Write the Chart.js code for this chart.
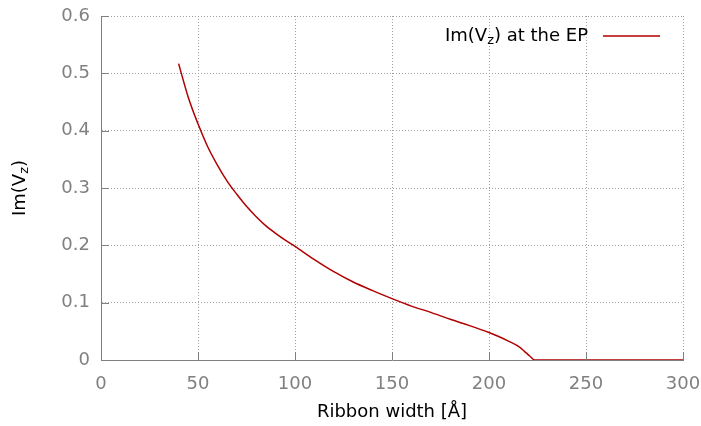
<!DOCTYPE html>
<html lang="en">
<head>
    <meta charset="UTF-8">
    <title>Im(Vz) at the EP</title>
    <script src="https://cdn.jsdelivr.net/npm/chart.js"></script>
    <style>
        body {
            margin: 0;
            padding: 0;
            background: white;
        }
    </style>
</head>
<body>
    <canvas id="epChart" width="701" height="426"></canvas>
    <script>
        // Ribbon width [Å] and imaginary part of Vz at the exceptional point
        const ribbonWidth = [40, 45, 50, 55, 60, 65, 70, 75, 80, 85, 90, 95, 100, 110, 120, 130, 140, 150,
                             160, 170, 180, 190, 200, 205, 210, 215, 218, 221, 223.5, 250, 300];
        const imVz = [0.517, 0.458, 0.412, 0.372, 0.340, 0.312, 0.289, 0.268, 0.250, 0.234, 0.221, 0.209,
                      0.198, 0.175, 0.154, 0.136, 0.121, 0.107, 0.094, 0.083, 0.071, 0.060, 0.048,
                      0.041, 0.033, 0.024, 0.016, 0.007, 0, 0, 0];
        const xTicks = [0, 50, 100, 150, 200, 250, 300];
        const yTicks = [0, 0.1, 0.2, 0.3, 0.4, 0.5, 0.6];

        const FONT = 'DejaVu Sans';
        const lineColor = '#b00000';

        // draws text with a subscript part
        function drawSub(ctx, parts, x, y, align) {
            const big = '18px "' + FONT + '"';
            const small = '13px "' + FONT + '"';
            let total = 0;
            parts.forEach(p => {
                ctx.font = p.sub ? small : big;
                total += ctx.measureText(p.t).width;
            });
            let cx = align === 'right' ? x - total : (align === 'center' ? x - total / 2 : x);
            ctx.textBaseline = 'middle';
            ctx.textAlign = 'left';
            parts.forEach(p => {
                ctx.font = p.sub ? small : big;
                ctx.fillText(p.t, cx, p.sub ? y + 5 : y);
                cx += ctx.measureText(p.t).width;
            });
        }

        const extras = {
            id: 'extras',
            afterDraw(chart) {
                const ctx = chart.ctx;
                const area = chart.chartArea;
                const xs = chart.scales.x, ys = chart.scales.y;
                ctx.save();
                // inward tick marks (gnuplot style)
                ctx.strokeStyle = '#808080';
                ctx.lineWidth = 1;
                ctx.beginPath();
                xTicks.forEach(v => {
                    const px = Math.round(xs.getPixelForValue(v)) + 0.5;
                    ctx.moveTo(px, area.bottom);
                    ctx.lineTo(px, area.bottom - 8);
                });
                yTicks.forEach(v => {
                    const py = Math.round(ys.getPixelForValue(v)) + 0.5;
                    ctx.moveTo(area.left, py);
                    ctx.lineTo(area.left + 8, py);
                });
                ctx.stroke();

                // y axis title with subscript
                ctx.fillStyle = '#000';
                ctx.translate(20, (area.top + area.bottom) / 2);
                ctx.rotate(-Math.PI / 2);
                drawSub(ctx, [{t: 'Im(V'}, {t: 'z', sub: true}, {t: ')'}], 0, 0, 'center');
                ctx.restore();

                // legend entry
                ctx.save();
                ctx.fillStyle = '#000';
                drawSub(ctx, [{t: 'Im(V'}, {t: 'z', sub: true}, {t: ') at the EP'}], 588, 36, 'right');
                ctx.strokeStyle = lineColor;
                ctx.lineWidth = 1.5;
                ctx.beginPath();
                ctx.moveTo(603, 36);
                ctx.lineTo(660, 36);
                ctx.stroke();
                ctx.restore();
            }
        };

        new Chart(document.getElementById('epChart').getContext('2d'), {
            type: 'scatter',
            data: {
                datasets: [{
                    label: 'Im(Vz) at the EP',
                    data: ribbonWidth.map((w, i) => ({x: w, y: imVz[i]})),
                    showLine: true,
                    borderColor: lineColor,
                    borderWidth: 1.5,
                    pointRadius: 0,
                    cubicInterpolationMode: 'monotone',
                    fill: false
                }]
            },
            options: {
                responsive: false,
                animation: false,
                layout: { padding: { top: 16, right: 18, left: 0, bottom: 0 } },
                plugins: {
                    legend: { display: false },
                    tooltip: { enabled: false }
                },
                scales: {
                    x: {
                        type: 'linear',
                        min: 0, max: 300,
                        afterBuildTicks: s => { s.ticks = xTicks.map(v => ({value: v})); },
                        afterFit: s => { s.height = 66; s.paddingLeft = 0; s.paddingRight = 0; },
                        ticks: { color: '#808080', font: { family: FONT, size: 18 }, padding: 14,
                                 maxRotation: 0, autoSkip: false },
                        grid: { color: '#a0a0a0', drawTicks: false, tickLength: 0 },
                        border: { color: '#808080', width: 1, dash: [1, 2] },
                        title: { display: true, text: 'Ribbon width [Å]', color: '#000',
                                 font: { family: FONT, size: 18 }, padding: { top: 4, bottom: 3 } }
                    },
                    y: {
                        type: 'linear',
                        min: 0, max: 0.6,
                        afterBuildTicks: s => { s.ticks = yTicks.map(v => ({value: v})); },
                        afterFit: s => { s.width = 101; s.paddingTop = 0; s.paddingBottom = 0; },
                        ticks: { color: '#808080', font: { family: FONT, size: 18 }, padding: 11,
                                 autoSkip: false, callback: v => String(Math.round(v * 10) / 10) },
                        grid: { color: '#a0a0a0', drawTicks: false, tickLength: 0 },
                        border: { color: '#808080', width: 1, dash: [1, 2] }
                    }
                }
            },
            plugins: [extras]
        });
    </script>
</body>
</html>
